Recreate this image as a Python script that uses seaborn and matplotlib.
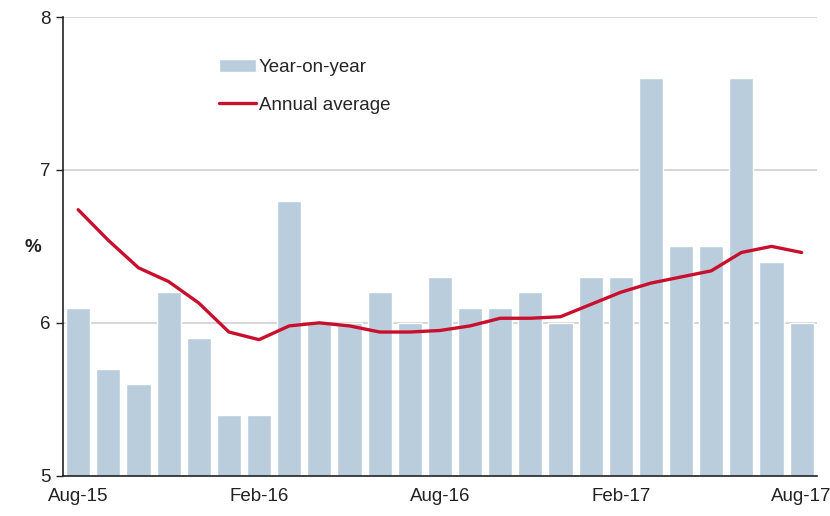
import numpy as np
import pandas as pd
import seaborn as sns
import matplotlib.pyplot as plt

# 데이터
months = ['Aug-15', 'Sep-15', 'Oct-15', 'Nov-15', 'Dec-15', 'Jan-16', 'Feb-16',
          'Mar-16', 'Apr-16', 'May-16', 'Jun-16', 'Jul-16', 'Aug-16', 'Sep-16',
          'Oct-16', 'Nov-16', 'Dec-16', 'Jan-17', 'Feb-17', 'Mar-17', 'Apr-17',
          'May-17', 'Jun-17', 'Jul-17', 'Aug-17']
yoy = [6.1, 5.7, 5.6, 6.2, 5.9, 5.4, 5.4, 6.8, 6.0, 6.0, 6.2, 6.0, 6.3,
       6.1, 6.1, 6.2, 6.0, 6.3, 6.3, 7.6, 6.5, 6.5, 7.6, 6.4, 6.0]
annual_avg = [6.74, 6.54, 6.36, 6.27, 6.13, 5.94, 5.89, 5.98, 6.00, 5.98, 5.94, 5.94, 5.95,
              5.98, 6.03, 6.03, 6.04, 6.12, 6.20, 6.26, 6.30, 6.34, 6.46, 6.50, 6.46]
tick_labels = ['Aug-15', 'Feb-16', 'Aug-16', 'Feb-17', 'Aug-17']

df = pd.DataFrame({'month': months, 'yoy': yoy, 'avg': annual_avg})
df['pos'] = np.arange(len(df))

sns.set_style('white')
plt.rcParams['font.family'] = ['Liberation Sans', 'DejaVu Sans']

fig, ax = plt.subplots(figsize=(8.3, 5.16), dpi=100)
fig.subplots_adjust(left=0.076, right=0.984, top=0.967, bottom=0.078)

sns.barplot(x='month', y='yoy', data=df, color='#BACDDD', saturation=1,
            width=0.8, label='Year-on-year', ax=ax, zorder=2)
sns.lineplot(x='pos', y='avg', data=df, color='#C8102E', linewidth=2.4,
             label='Annual average', ax=ax, zorder=3)

ax.set_ylim(5, 8)
ax.set_xlim(-0.5, len(df) - 0.5)
ax.set_yticks([5, 6, 7, 8])
ax.set_xticks([months.index(t) for t in tick_labels])
ax.set_xticklabels(tick_labels)
ax.yaxis.grid(True, color='#CFCFCF', linewidth=1.2, zorder=0)
ax.set_axisbelow(True)

for s in ['top', 'right']:
    ax.spines[s].set_visible(False)
for s in ['left', 'bottom']:
    ax.spines[s].set_color('#222222')
    ax.spines[s].set_linewidth(1.2)

ax.tick_params(axis='y', which='both', left=True, length=5, width=1,
               color='#222222', labelsize=13.5, pad=4, labelcolor='#222222')
ax.tick_params(axis='x', bottom=False, labelsize=13.5, pad=5, labelcolor='#222222')

ax.set_xlabel('')
ax.set_ylabel('%', rotation=0, fontsize=13.5, fontweight='bold',
              color='#222222')
ax.yaxis.set_label_coords(-0.04, 0.48)

# 범례 순서: 막대 먼저
handles, labels = ax.get_legend_handles_labels()
order = [labels.index('Year-on-year'), labels.index('Annual average')]
ax.legend([handles[i] for i in order], [labels[i] for i in order],
          loc='upper left', bbox_to_anchor=(0.184, 0.945), frameon=False,
          fontsize=13.5, handlelength=2.0, handletextpad=0.15, labelspacing=1.1)

plt.savefig('out.png')
plt.close()
